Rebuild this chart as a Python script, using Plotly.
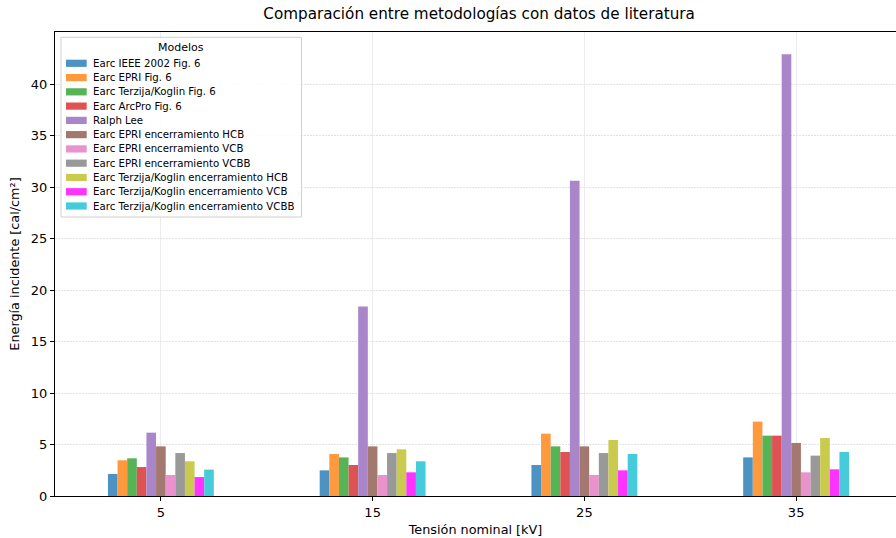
import plotly.graph_objects as go

categories = ["5", "15", "25", "35"]
series_names = [
    "Earc IEEE 2002 Fig. 6",
    "Earc EPRI Fig. 6",
    "Earc Terzija/Koglin Fig. 6",
    "Earc ArcPro Fig. 6",
    "Ralph Lee",
    "Earc EPRI encerramiento HCB",
    "Earc EPRI encerramiento VCB",
    "Earc EPRI encerramiento VCBB",
    "Earc Terzija/Koglin encerramiento HCB",
    "Earc Terzija/Koglin encerramiento VCB",
    "Earc Terzija/Koglin encerramiento VCBB",
]
ieee2002 = [2.14, 2.49, 3.01, 3.75]
epri = [3.47, 4.08, 6.05, 7.22]
terzija = [3.66, 3.75, 4.82, 5.86]
arcpro = [2.81, 3.01, 4.27, 5.86]
ralph_lee = [6.15, 18.41, 30.6, 42.9]
epri_hcb = [4.82, 4.82, 4.82, 5.15]
epri_vcb = [2.04, 2.04, 2.04, 2.30]
epri_vcbb = [4.17, 4.17, 4.17, 3.92]
terzija_hcb = [3.37, 4.53, 5.44, 5.63]
terzija_vcb = [1.84, 2.30, 2.49, 2.59]
terzija_vcbb = [2.56, 3.37, 4.08, 4.27]
series_values = [ieee2002, epri, terzija, arcpro, ralph_lee, epri_hcb,
                 epri_vcb, epri_vcbb, terzija_hcb, terzija_vcb, terzija_vcbb]
base_colors = ["#1f77b4", "#ff7f0e", "#2ca02c", "#d62728", "#9467bd", "#8c564b",
               "#e377c2", "#7f7f7f", "#bcbd22", "#ff00ff", "#17becf"]
y_ticks = [0, 5, 10, 15, 20, 25, 30, 35, 40]
legend_title = "Modelos"


def blend(hexcol, alpha=0.8):
    h = hexcol.lstrip("#")
    r, g, b = (int(h[i:i + 2], 16) for i in (0, 2, 4))
    f = lambda c: round(alpha * c + (1 - alpha) * 255)
    return "#{:02x}{:02x}{:02x}".format(f(r), f(g), f(b))


colors = [blend(c) for c in base_colors]

FONT = "DejaVu Sans"
W, H = 896, 538
ML, MR, MT, MB = 55, 0, 32, 42
PW, PH = W - ML - MR, H - MT - MB


def px(x):
    return (x - ML) / PW


def py(y):
    return (H - MB - y) / PH


fig = go.Figure()
for name, vals, col in zip(series_names, series_values, colors):
    fig.add_trace(go.Bar(
        x=categories, y=vals, name=name,
        marker=dict(color=col, line=dict(width=0)),
    ))

# Manual legend (matplotlib-like compact layout)
shapes = [dict(type="rect", xref="paper", yref="paper",
               x0=px(61), x1=px(301.5), y0=py(217), y1=py(37.3),
               fillcolor="rgba(255,255,255,0.85)",
               line=dict(color="#d0d0d0", width=1), layer="above")]
annotations = [dict(text=legend_title, xref="paper", yref="paper",
                    x=px(180.5), y=py(47), xanchor="center", yanchor="middle",
                    showarrow=False, font=dict(size=11, family=FONT, color="black"))]
y0, dy = 63.3, 14.27
for i, (name, col) in enumerate(zip(series_names, colors)):
    yc = y0 + i * dy
    shapes.append(dict(type="rect", xref="paper", yref="paper",
                       x0=px(66), x1=px(86.7), y0=py(yc + 3.6), y1=py(yc - 3.6),
                       fillcolor=col, line=dict(width=0), layer="above"))
    annotations.append(dict(text=name, xref="paper", yref="paper",
                            x=px(90.5), y=py(yc), xanchor="left", yanchor="middle",
                            showarrow=False,
                            font=dict(size=10.2, family=FONT, color="black")))

fig.update_layout(
    width=W, height=H,
    margin=dict(l=ML, r=MR, t=MT, b=MB),
    paper_bgcolor="white", plot_bgcolor="white",
    font=dict(family=FONT, size=13, color="black"),
    barmode="group", bargap=0.5, bargroupgap=0,
    title=dict(text="Comparación entre metodologías con datos de literatura",
               x=0.5347, xanchor="center", y=0.985, yanchor="top",
               font=dict(size=15.2, family=FONT)),
    showlegend=False,
    shapes=shapes,
    annotations=annotations,
)
fig.update_xaxes(
    type="category", range=[-0.5, 3.4717],
    showline=True, linecolor="black", linewidth=1, mirror=True,
    ticks="outside", ticklen=4, tickcolor="black",
    showgrid=True, gridcolor="#ececec", gridwidth=1,
    title=dict(text="Tensión nominal [kV]", font=dict(size=12.8), standoff=6),
    tickfont=dict(size=13),
)
fig.update_yaxes(
    range=[0, 45.05], tickvals=y_ticks,
    showline=True, linecolor="black", linewidth=1,
    ticks="outside", ticklen=4, tickcolor="black",
    showgrid=True, gridcolor="#e2e2e2", gridwidth=1, griddash="2px,1px",
    zeroline=False,
    title=dict(text="Energía incidente [cal/cm²]", font=dict(size=12.8), standoff=8),
    tickfont=dict(size=13),
)
fig.write_html("out.html")
